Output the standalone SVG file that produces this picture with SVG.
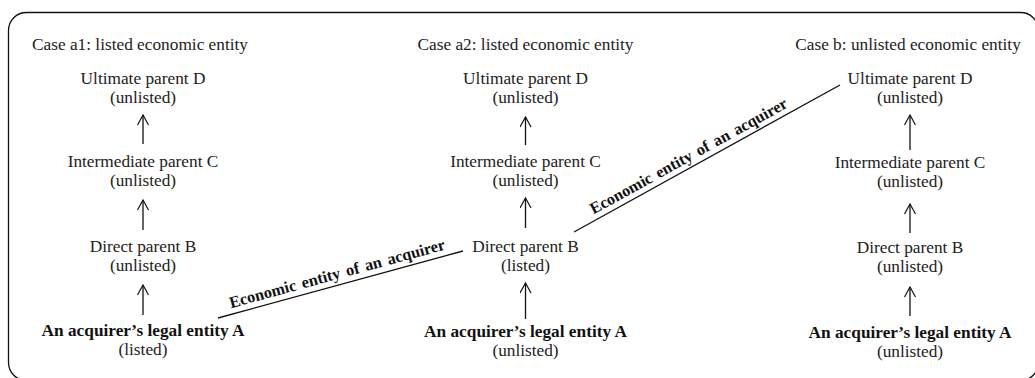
<svg xmlns="http://www.w3.org/2000/svg" width="1035" height="378" viewBox="0 0 1035 378">
<style>
text{font-family:"Liberation Serif","Times New Roman",serif;font-size:17.3px;fill:#222;text-anchor:middle}
.b{font-weight:bold;fill:#111}
.d{font-weight:bold;font-size:16.3px;fill:#111;word-spacing:2px}
.frame{fill:none;stroke:#111;stroke-width:1.3}
.ln{stroke:#111;stroke-width:1.3;fill:none}
</style>
<defs>
<marker id="ah" viewBox="0 0 12 12" refX="11" refY="6" markerWidth="12" markerHeight="12" markerUnits="userSpaceOnUse" orient="auto">
<path d="M1,0.5 L11,6 L1,11.5" fill="none" stroke="#111" stroke-width="1.2"/>
</marker>
</defs>
<rect class="frame" x="8.5" y="12.5" width="1030" height="368" rx="18"/>

<g id="case-a1">
<text x="140" y="50">Case a1: listed economic entity</text>
<g id="a1-D"><text x="143" y="84">Ultimate parent D</text><text x="143" y="102.5">(unlisted)</text></g>
<g id="a1-C"><text x="143" y="167">Intermediate parent C</text><text x="143" y="186">(unlisted)</text></g>
<g id="a1-B"><text x="143" y="252">Direct parent B</text><text x="143" y="271">(unlisted)</text></g>
<g id="a1-A"><text class="b" x="143" y="336">An acquirer’s legal entity A</text><text x="143" y="355">(listed)</text></g>
</g>

<g id="case-a2">
<text x="525.5" y="50">Case a2: listed economic entity</text>
<g id="a2-D"><text x="525.5" y="84">Ultimate parent D</text><text x="525.5" y="102.5">(unlisted)</text></g>
<g id="a2-C"><text x="525.5" y="167">Intermediate parent C</text><text x="525.5" y="186">(unlisted)</text></g>
<g id="a2-B"><text x="525.5" y="252">Direct parent B</text><text x="525.5" y="271">(listed)</text></g>
<g id="a2-A"><text class="b" x="525.5" y="337">An acquirer’s legal entity A</text><text x="525.5" y="356">(unlisted)</text></g>
</g>

<g id="case-b">
<text x="908" y="50">Case b: unlisted economic entity</text>
<g id="b-D"><text x="910" y="84">Ultimate parent D</text><text x="910" y="102.5">(unlisted)</text></g>
<g id="b-C"><text x="910" y="168">Intermediate parent C</text><text x="910" y="187">(unlisted)</text></g>
<g id="b-B"><text x="910" y="253">Direct parent B</text><text x="910" y="272">(unlisted)</text></g>
<g id="b-A"><text class="b" x="910" y="338">An acquirer’s legal entity A</text><text x="910" y="357">(unlisted)</text></g>
</g>

<g id="connectors">
<line class="ln" x1="143" y1="144" x2="143" y2="115" marker-end="url(#ah)"/>
<line class="ln" x1="143" y1="230" x2="143" y2="200" marker-end="url(#ah)"/>
<line class="ln" x1="143" y1="315" x2="143" y2="285" marker-end="url(#ah)"/>
<line class="ln" x1="525.5" y1="145" x2="525.5" y2="117" marker-end="url(#ah)"/>
<line class="ln" x1="525.5" y1="228" x2="525.5" y2="198" marker-end="url(#ah)"/>
<line class="ln" x1="525.5" y1="319" x2="525.5" y2="283" marker-end="url(#ah)"/>
<line class="ln" x1="910" y1="150" x2="910" y2="115" marker-end="url(#ah)"/>
<line class="ln" x1="910" y1="233" x2="910" y2="204" marker-end="url(#ah)"/>
<line class="ln" x1="910" y1="316" x2="910" y2="287" marker-end="url(#ah)"/>
<line class="ln" x1="218" y1="318" x2="463" y2="251"/>
<line class="ln" x1="574" y1="232" x2="840" y2="85"/>
<text class="d" transform="translate(340,284.5) rotate(-15.3)" x="0" y="-6">Economic entity of an acquirer</text>
<text class="d" transform="translate(694,166) rotate(-28.9)" x="0" y="-6">Economic entity of an acquirer</text>
</g>
</svg>
